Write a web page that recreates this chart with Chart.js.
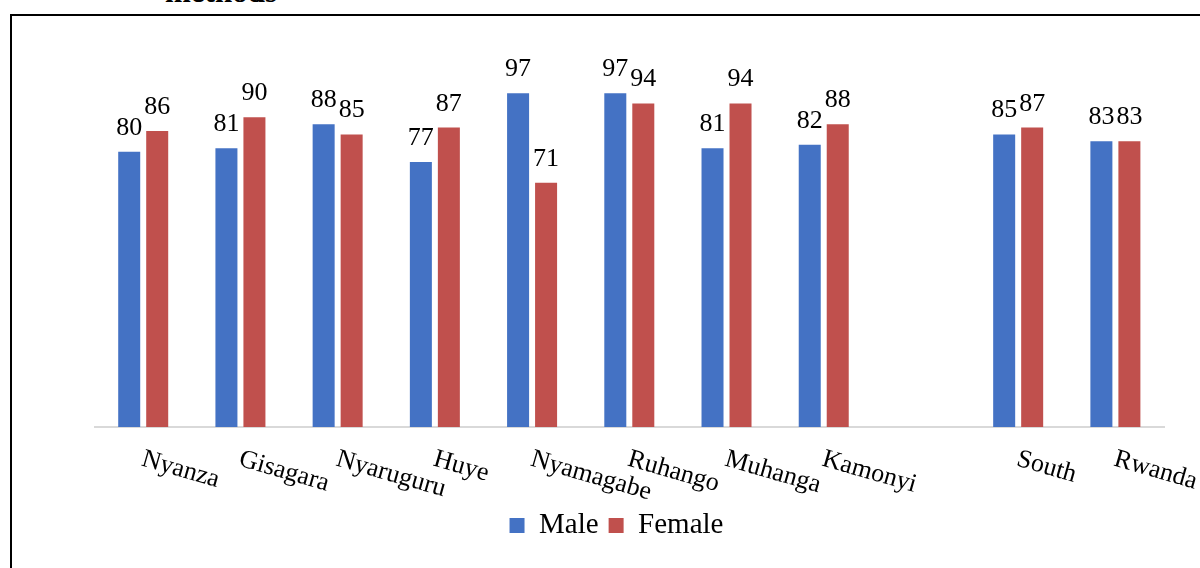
<!DOCTYPE html>
<html>
<head>
<meta charset="utf-8">
<script src="https://cdn.jsdelivr.net/npm/chart.js@4.4.1/dist/chart.umd.min.js"></script>
<style>
  html, body { margin: 0; padding: 0; width: 1200px; height: 568px; overflow: hidden; background: #fff; }
  #frame { position: absolute; left: 10px; top: 14px; width: 1400px; height: 800px; border: 2px solid #000; box-sizing: border-box; }
  #cut { position: absolute; left: 165px; top: -23px; font: bold 31px "Liberation Serif", "Times New Roman", serif; line-height: 30px; color: #000; white-space: nowrap; }
  #wrap { position: absolute; left: 0; top: 0; width: 1200px; height: 568px; }
</style>
</head>
<body>
<div id="cut">methods</div>
<div id="frame"></div>
<div id="wrap"><canvas id="c"></canvas></div>
<script>
const categories = ['Nyanza', 'Gisagara', 'Nyaruguru', 'Huye', 'Nyamagabe', 'Ruhango', 'Muhanga', 'Kamonyi', '', 'South', 'Rwanda'];
const maleValues = [80, 81, 88, 77, 97, 97, 81, 82, null, 85, 83];
const femaleValues = [86, 90, 85, 87, 71, 94, 94, 88, null, 87, 83];
const seriesNames = ['Male', 'Female'];

const FONT = '"Liberation Serif", "Times New Roman", serif';

const labelPlugin = {
  id: 'customLabels',
  afterDatasetsDraw(chart) {
    const ctx = chart.ctx;
    ctx.save();
    ctx.fillStyle = '#000';
    ctx.font = '26px ' + FONT;
    ctx.textAlign = 'center';
    ctx.textBaseline = 'alphabetic';
    chart.data.datasets.forEach((ds, di) => {
      const meta = chart.getDatasetMeta(di);
      meta.data.forEach((bar, i) => {
        const v = ds.data[i];
        if (v === null || v === undefined) return;
        ctx.fillText(String(v), bar.x, bar.y - 17);
      });
    });
    // rotated category labels
    const xs = chart.scales.x;
    const base = chart.chartArea.bottom;
    ctx.textAlign = 'left';
    chart.data.labels.forEach((lab, i) => {
      if (!lab) return;
      const x = xs.getPixelForValue(i);
      ctx.save();
      ctx.translate(x + 2, base + 22);
      ctx.rotate(16 * Math.PI / 180);
      ctx.fillText(lab, 0, 17);
      ctx.restore();
    });
    ctx.restore();
  }
};

new Chart(document.getElementById('c'), {
  type: 'bar',
  data: {
    labels: categories,
    datasets: [
      { label: seriesNames[0], data: maleValues, backgroundColor: '#4472C4', borderWidth: 0,
        categoryPercentage: 0.576, barPercentage: 0.786 },
      { label: seriesNames[1], data: femaleValues, backgroundColor: '#C0504D', borderWidth: 0,
        categoryPercentage: 0.576, barPercentage: 0.786 }
    ]
  },
  options: {
    responsive: true,
    maintainAspectRatio: false,
    animation: false,
    layout: { padding: { left: 69, right: 36, top: 14, bottom: 18 } },
    plugins: {
      legend: {
        position: 'bottom',
        labels: {
          boxWidth: 15, boxHeight: 15, padding: 10, color: '#000',
          font: { family: FONT, size: 29 }
        }
      },
      tooltip: { enabled: false },
      title: { display: false }
    },
    scales: {
      x: {
        grid: { display: false },
        border: { display: true, color: '#d9d9d9', width: 2 },
        ticks: { display: false },
        afterFit(s) { s.height = 74; }
      },
      y: {
        min: 0, max: 120,
        grid: { display: false },
        border: { display: false },
        ticks: { display: false },
        afterFit(s) { s.width = 25.6; }
      }
    }
  },
  plugins: [labelPlugin]
});
</script>
</body>
</html>
